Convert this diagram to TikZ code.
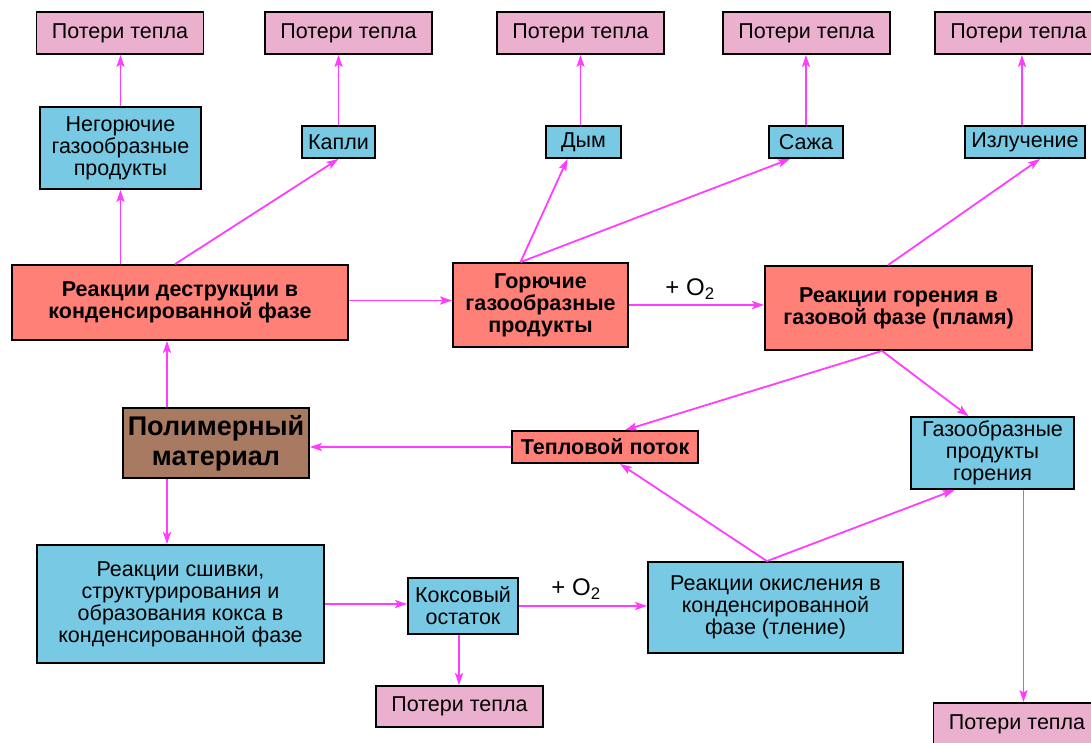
\documentclass[tikz,border=0pt]{standalone}
\usepackage{fontspec}
\setmainfont{Liberation Sans}
\usetikzlibrary{arrows.meta,calc}
\definecolor{pinkbox}{HTML}{EBB0CE}
\definecolor{bluebox}{HTML}{77C9E4}
\definecolor{salmonbox}{HTML}{FF8077}
\definecolor{brownbox}{HTML}{A97A62}
\definecolor{arrowcol}{HTML}{FF3CFF}
\tikzset{
  box/.style={draw=black,line width=1.8pt,inner sep=0pt,align=center,font=\fontsize{21.5}{22}\selectfont},
  loss/.style={box,fill=pinkbox,minimum width=167pt,minimum height=42pt},
  bluen/.style={box,fill=bluebox},
  salmon/.style={box,fill=salmonbox,font=\fontsize{21.5}{22}\selectfont\bfseries},
  brownn/.style={box,fill=brownbox,font=\fontsize{27}{30}\selectfont\bfseries},
  arr/.style={draw=arrowcol,line width=1.8pt,-{Stealth[length=12pt,width=8pt,inset=2.5pt]}},
  lbl/.style={font=\fontsize{24}{24}\selectfont,inner sep=0pt}
}
\begin{document}
\begin{tikzpicture}[x=1pt,y=-1pt]
\useasboundingbox (0,0) rectangle (1091,742);
% top losses
\node[loss] (p1) at (120,33) {Потери тепла};
\node[loss] (p2) at (348.5,33) {Потери тепла};
\node[loss] (p3) at (580.5,33) {Потери тепла};
\node[loss] (p4) at (806.5,33) {Потери тепла};
\node[loss] (p5) at (1018.5,33) {Потери тепла};
% second row
\node[bluen,minimum width=161pt,minimum height=82pt] (neg) at (120.5,148) {Негорючие\\газообразные\\продукты};
\node[bluen,minimum width=73pt,minimum height=32pt] (kapli) at (338.5,142) {Капли};
\node[bluen,minimum width=75pt,minimum height=32pt] (dym) at (583.5,142) {Дым};
\node[bluen,minimum width=74pt,minimum height=32pt] (sazha) at (806,142) {Сажа};
\node[bluen,minimum width=120pt,minimum height=32pt] (izl) at (1025,142) {Излучение};
% third row
\node[salmon,minimum width=336pt,minimum height=75pt] (destr) at (180,302.5) {Реакции деструкции в\\конденсированной фазе};
\node[salmon,minimum width=175pt,minimum height=84pt] (gor) at (540.5,305) {Горючие\\газообразные\\продукты};
\node[salmon,minimum width=267pt,minimum height=84pt] (goren) at (898.5,308) {Реакции горения в\\газовой фазе (пламя)};
% fourth row
\node[brownn,minimum width=186pt,minimum height=70pt] (poly) at (216,443) {Полимерный\\материал};
\node[salmon,minimum width=186pt,minimum height=32pt] (teplo) at (605,447) {Тепловой поток};
\node[bluen,minimum width=163pt,minimum height=72pt] (gpg) at (992.5,453) {Газообразные\\продукты\\горения};
% bottom
\node[bluen,minimum width=287pt,minimum height=118pt] (shiv) at (180.5,604) {Реакции сшивки,\\структурирования и\\образования кокса в\\конденсированной фазе};
\node[bluen,minimum width=110pt,minimum height=56pt] (koks) at (463,606) {Коксовый\\остаток};
\node[loss,minimum height=41pt] (potb) at (459.5,706.5) {Потери тепла};
\node[bluen,minimum width=255pt,minimum height=91pt] (okisl) at (775.5,607.5) {Реакции окисления в\\конденсированной\\фазе (тление)};
\node[loss] (potbr) at (1017,724) {Потери тепла};
% labels
\node[lbl] (o2a) at (690,289) {+ O\textsubscript{2}};
\node[lbl] (o2b) at (576,589) {+ O\textsubscript{2}};
% arrows
\draw[arr] (neg.north) -- (neg.north |- p1.south);
\draw[arr] (destr.north -| neg.south) -- (neg.south);
\draw[arr] ([xshift=-5pt]destr.north) -- (kapli.south);
\draw[arr] (kapli.north) -- (kapli.north |- p2.south);
\draw[arr] ([yshift=2pt]destr.east) -- ([yshift=2pt]destr.east -| gor.west);
\draw[arr] ([xshift=-20pt]gor.north) -- ([xshift=-16pt]dym.south);
\draw[arr] ([xshift=-20pt]gor.north) -- ([xshift=-16pt]sazha.south);
\draw[arr] ([xshift=-3pt]dym.north) -- ([xshift=-3pt]dym.north |- p3.south);
\draw[arr] (sazha.north) -- (sazha.north |- p4.south);
\draw[arr] (gor.east) -- (gor.east -| goren.west);
\draw[arr] ([xshift=-10.5pt]goren.north) -- ([xshift=15pt]izl.south);
\draw[arr] ([xshift=-3pt]izl.north) -- ([xshift=-3pt]izl.north |- p5.south);
\draw[arr] ([xshift=-16.5pt]goren.south) -- ([xshift=20pt]teplo.north);
\draw[arr] ([xshift=-16.5pt]goren.south) -- ([xshift=-24pt]gpg.north);
\draw[arr] (teplo.west) -- (teplo.west -| poly.east);
\draw[arr] ([xshift=-49pt]poly.north) -- ([xshift=-49pt]poly.north |- destr.south);
\draw[arr] ([xshift=-49pt]poly.south) -- ([xshift=-49pt]poly.south |- shiv.north);
\draw[arr] (shiv.east) -- (shiv.east -| koks.west);
\draw[arr] (koks.east) -- (koks.east -| okisl.west);
\draw[arr] ([xshift=-4pt]koks.south) -- ([xshift=-4pt]koks.south |- potb.north);
\draw[arr] ([xshift=-8.5pt]okisl.north) -- ([xshift=15pt]teplo.south);
\draw[arr] ([xshift=-8.5pt]okisl.north) -- ([xshift=-38pt]gpg.south);
\draw[arr] ([xshift=31pt]gpg.south) -- ([xshift=31pt]gpg.south |- potbr.north);
\end{tikzpicture}
\end{document}
